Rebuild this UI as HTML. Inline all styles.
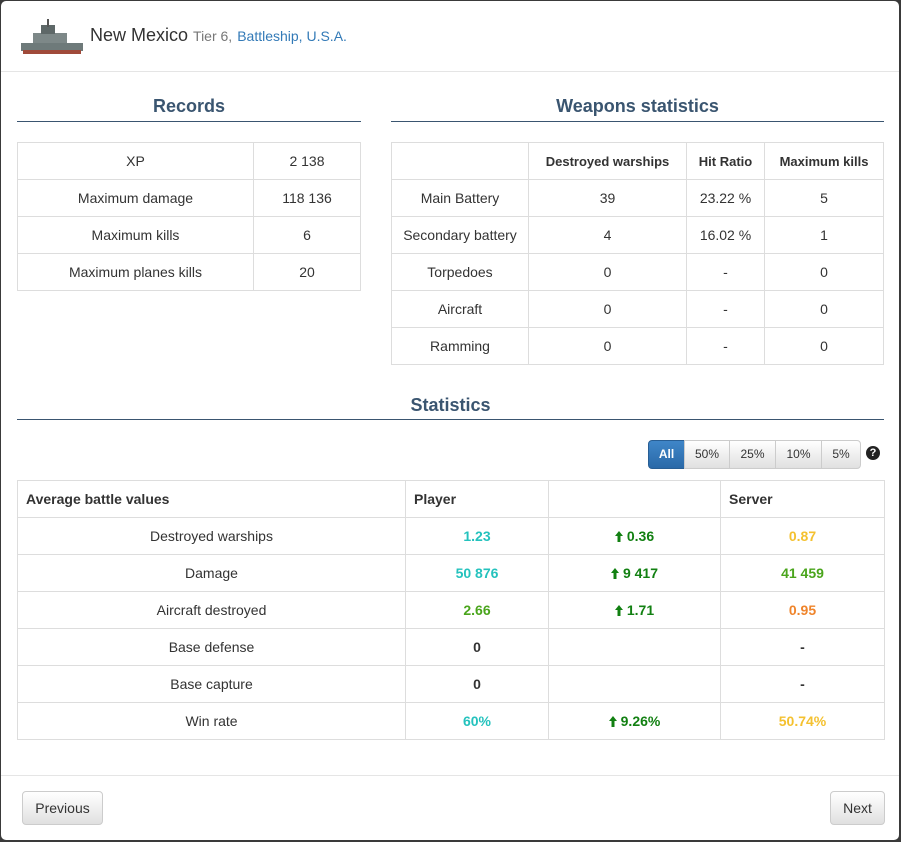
<!DOCTYPE html>
<html><head><meta charset="utf-8">
<style>
*{box-sizing:border-box;margin:0;padding:0}
body{width:901px;height:842px;background:#3a3a3a;font-family:"Liberation Sans",Arial,sans-serif;font-size:14px;color:#333;position:relative;overflow:hidden}
.modal{position:absolute;left:1px;top:1px;width:898px;height:839px;background:#fff;border-radius:5px}
.a{position:absolute}
.h3{font-size:18px;font-weight:bold;color:#3a5570;text-align:center}
.line{height:1px;background:#3a5570}
table{border-collapse:collapse;position:absolute;table-layout:fixed}
td,th{border:1px solid #ddd;height:37px;text-align:center;font-size:14px;padding:0 8px}
th{font-weight:bold}
.b{font-weight:bold}
.teal{color:#24c2bd;font-weight:bold}
.grn{color:#4aa51c;font-weight:bold}
.org{color:#ef842b;font-weight:bold}
.yel{color:#f4c130;font-weight:bold}
.dg{color:#128012;font-weight:bold}
.arr{display:inline-block;vertical-align:-1px;margin-right:4px}
.btn{position:absolute;border:1px solid #ccc;background:linear-gradient(#fff,#e0e0e0);border-radius:4px;font-size:14px;color:#333;text-align:center;line-height:32px}
.grp{position:absolute;height:29px;line-height:27px;font-size:12px;text-align:center;border:1px solid #ccc;background:linear-gradient(#fff,#e0e0e0);color:#333}
</style></head><body>
<div class="modal">
 <svg class="a" style="left:18px;top:18px" width="66" height="38">
  <rect x="2" y="24" width="62" height="8" fill="#6e7a7a"/>
  <rect x="4" y="31" width="58" height="4" fill="#a04a3a"/>
  <rect x="14" y="14" width="34" height="10" fill="#7d8888"/>
  <rect x="22" y="6" width="14" height="9" fill="#5e6868"/>
  <rect x="28" y="0" width="2" height="8" fill="#555"/>
 </svg>
 <div class="a" style="left:89px;top:24px;font-size:18px;color:#333">New Mexico <span style="font-size:14px;color:#777">Tier 6,</span> <span style="font-size:14px;color:#337ab7">Battleship, U.S.A.</span></div>
 <div class="a" style="left:0;top:70px;width:898px;height:1px;background:#e5e5e5"></div>

 <div class="a h3" style="left:16px;top:95px;width:344px">Records</div>
 <div class="a line" style="left:16px;top:120px;width:344px"></div>
 <table style="left:16px;top:141px;width:343px">
  <col style="width:236px"><col style="width:107px">
  <tr><td>XP</td><td>2 138</td></tr>
  <tr><td>Maximum damage</td><td>118 136</td></tr>
  <tr><td>Maximum kills</td><td>6</td></tr>
  <tr><td>Maximum planes kills</td><td>20</td></tr>
 </table>

 <div class="a h3" style="left:390px;top:95px;width:493px">Weapons statistics</div>
 <div class="a line" style="left:390px;top:120px;width:493px"></div>
 <table style="left:390px;top:141px;width:492px">
  <col style="width:137px"><col style="width:158px"><col style="width:78px"><col style="width:119px">
  <tr><th></th><th style="font-size:13px">Destroyed warships</th><th style="font-size:13px">Hit Ratio</th><th style="font-size:13px">Maximum kills</th></tr>
  <tr><td>Main Battery</td><td>39</td><td>23.22 %</td><td>5</td></tr>
  <tr><td>Secondary battery</td><td>4</td><td>16.02 %</td><td>1</td></tr>
  <tr><td>Torpedoes</td><td>0</td><td>-</td><td>0</td></tr>
  <tr><td>Aircraft</td><td>0</td><td>-</td><td>0</td></tr>
  <tr><td>Ramming</td><td>0</td><td>-</td><td>0</td></tr>
 </table>

 <div class="a h3" style="left:16px;top:394px;width:867px">Statistics</div>
 <div class="a line" style="left:16px;top:418px;width:867px"></div>

 <div class="grp" style="left:647px;top:439px;width:37px;background:linear-gradient(#3f86c8,#2a69a8);color:#fff;border-color:#285e94;border-radius:4px 0 0 4px;font-weight:bold">All</div>
 <div class="grp" style="left:683px;top:439px;width:46px">50%</div>
 <div class="grp" style="left:728px;top:439px;width:47px">25%</div>
 <div class="grp" style="left:774px;top:439px;width:47px">10%</div>
 <div class="grp" style="left:820px;top:439px;width:40px;border-radius:0 4px 4px 0">5%</div>
 <div class="a" style="left:865px;top:445px;width:14px;height:14px;border-radius:7px;background:#222;color:#fff;font-size:11px;font-weight:bold;text-align:center;line-height:14px">?</div>

 <table style="left:16px;top:479px;width:867px">
  <col style="width:388px"><col style="width:143px"><col style="width:172px"><col style="width:164px">
  <tr><th style="text-align:left">Average battle values</th><th style="text-align:left">Player</th><th></th><th style="text-align:left">Server</th></tr>
  <tr><td>Destroyed warships</td><td class="teal">1.23</td><td class="dg"><svg class="arr" width="8" height="11"><path d="M4 0L8 5H5.5V11H2.5V5H0Z" fill="#128012"/></svg>0.36</td><td class="yel">0.87</td></tr>
  <tr><td>Damage</td><td class="teal">50 876</td><td class="dg"><svg class="arr" width="8" height="11"><path d="M4 0L8 5H5.5V11H2.5V5H0Z" fill="#128012"/></svg>9 417</td><td class="grn">41 459</td></tr>
  <tr><td>Aircraft destroyed</td><td class="grn">2.66</td><td class="dg"><svg class="arr" width="8" height="11"><path d="M4 0L8 5H5.5V11H2.5V5H0Z" fill="#128012"/></svg>1.71</td><td class="org">0.95</td></tr>
  <tr><td>Base defense</td><td class="b">0</td><td></td><td class="b">-</td></tr>
  <tr><td>Base capture</td><td class="b">0</td><td></td><td class="b">-</td></tr>
  <tr><td>Win rate</td><td class="teal">60%</td><td class="dg"><svg class="arr" width="8" height="11"><path d="M4 0L8 5H5.5V11H2.5V5H0Z" fill="#128012"/></svg>9.26%</td><td class="yel">50.74%</td></tr>
 </table>

 <div class="a" style="left:0;top:774px;width:898px;height:1px;background:#e5e5e5"></div>
 <div class="btn" style="left:21px;top:790px;width:81px;height:34px">Previous</div>
 <div class="btn" style="left:829px;top:790px;width:55px;height:34px">Next</div>
</div>
</body></html>
